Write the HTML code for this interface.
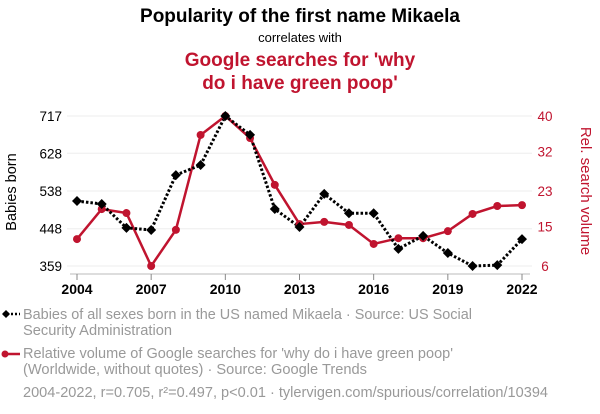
<!DOCTYPE html>
<html><head><meta charset="utf-8"><style>
body{margin:0;background:#fff;font-family:"Liberation Sans",sans-serif;}
svg{display:block}
</style></head><body>
<svg id="c" width="600" height="414">
<text x="300" y="22" text-anchor="middle" font-size="19" font-weight="bold" fill="#000">Popularity of the first name Mikaela</text>
<text x="300" y="42" text-anchor="middle" font-size="13" fill="#000">correlates with</text>
<text x="300" y="66" text-anchor="middle" font-size="19" font-weight="bold" fill="#c0142f">Google searches for 'why</text>
<text x="300" y="89" text-anchor="middle" font-size="19" font-weight="bold" fill="#c0142f">do i have green poop'</text>
<text transform="translate(16,192) rotate(-90)" text-anchor="middle" font-size="14.5" fill="#000">Babies born</text>
<text transform="translate(581,191) rotate(90)" text-anchor="middle" font-size="15" fill="#c0142f">Rel. search volume</text>
<g id="g"></g>
<g>
<line x1="3" y1="314" x2="20" y2="314" stroke="#000" stroke-width="2.5" stroke-dasharray="2,2"/>
<path d="M6 310 L10 314 L6 318 L2 314Z" fill="#000"/>
<text x="23" y="319" font-size="14.5" fill="#999" textLength="449" lengthAdjust="spacingAndGlyphs">Babies of all sexes born in the US named Mikaela · Source: US Social</text>
<text x="23" y="335" font-size="14.5" fill="#999" textLength="149" lengthAdjust="spacingAndGlyphs">Security Administration</text>
<line x1="3" y1="354" x2="20" y2="354" stroke="#c0142f" stroke-width="2.5"/>
<circle cx="5" cy="354" r="3.5" fill="#c0142f"/>
<text x="23" y="358" font-size="14.5" fill="#999" textLength="430" lengthAdjust="spacingAndGlyphs">Relative volume of Google searches for 'why do i have green poop'</text>
<text x="23" y="374" font-size="14.5" fill="#999" textLength="344" lengthAdjust="spacingAndGlyphs">(Worldwide, without quotes) · Source: Google Trends</text>
<text x="23" y="397" font-size="14.5" fill="#999" textLength="525" lengthAdjust="spacingAndGlyphs">2004-2022, r=0.705, r²=0.497, p&lt;0.01 · tylervigen.com/spurious/correlation/10394</text>
</g>
</svg>
<script>
const years=[2004,2005,2006,2007,2008,2009,2010,2011,2012,2013,2014,2015,2016,2017,2018,2019,2020,2021,2022];
const babies=[514,507,450,445,576,600,717,672,495,452,531,485,485,400,431,390,359,361,423];
const searches=[12.1,18.9,18,6,14.2,35.7,40,35,24.4,15.5,16,15.3,11,12.3,12.3,13.9,17.8,19.6,19.8];
const leftTicks=[359,448,538,628,717];
const rightTicks=[6,15,23,32,40];
const xTicks=[2004,2007,2010,2013,2016,2019,2022];
const X0=77,X1=522,Y0=266,Y1=116;
const x=v=>X0+(v-2004)/(2022-2004)*(X1-X0);
const yl=v=>Y0-(v-359)/(717-359)*(Y0-Y1);
const yr=v=>Y0-(v-6)/(40-6)*(Y0-Y1);
const g=document.getElementById('g');const NS='http://www.w3.org/2000/svg';
function mk(t,a){const e=document.createElementNS(NS,t);for(const k in a)e.setAttribute(k,a[k]);g.appendChild(e);return e;}
leftTicks.forEach((v,i)=>{
 const l=mk('line',{x1:X0-10,x2:X1+10,y1:yl(v),y2:yl(v),stroke:'#eee','stroke-width':1});
 
 
 const t=mk('text',{x:62,y:yl(v)+5,'font-size':13.5,'text-anchor':'end',fill:'#000'});t.textContent=v;
 
 
 const r=mk('text',{x:545,y:yr(rightTicks[i])+5,'font-size':13.5,'text-anchor':'middle',fill:'#c0142f'});r.textContent=rightTicks[i];
 
 
});
const ax=mk('line',{x1:X0-7,x2:X1+8,y1:274,y2:274,stroke:'#bbb','stroke-width':1});


xTicks.forEach(v=>{
 mk('line',{x1:x(v),x2:x(v),y1:274,y2:280,stroke:'#888'});
 const t=mk('text',{x:x(v),y:294,'font-size':14,'font-weight':'bold','text-anchor':'middle',fill:'#000'});t.textContent=v;
 
 
});
const rp=mk('polyline',{points:years.map((y,i)=>x(y)+','+yr(searches[i])).join(' '),fill:'none',stroke:'#c0142f','stroke-width':2.5});


const bp=mk('polyline',{points:years.map((y,i)=>x(y)+','+yl(babies[i])).join(' '),fill:'none',stroke:'#000','stroke-width':3,'stroke-dasharray':'2.5,2'});


years.forEach((y,i)=>{
 const c=mk('circle',{cx:x(y),cy:yr(searches[i]),r:4,fill:'#c0142f'});
 
 
 const px=x(y),py=yl(babies[i]);
 const d=mk('path',{d:`M${px} ${py-5}L${px+5} ${py}L${px} ${py+5}L${px-5} ${py}Z`,fill:'#000'});
 
 
});
</script>
</body></html>
